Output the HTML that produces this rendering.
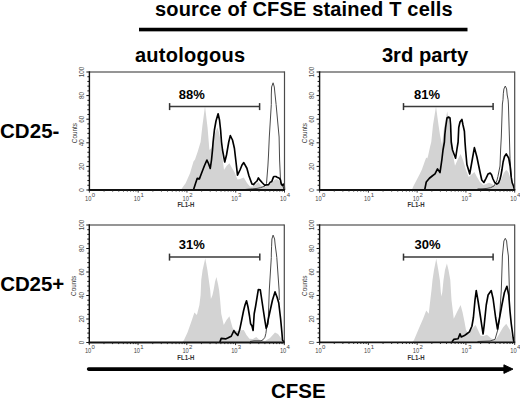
<!DOCTYPE html>
<html><head><meta charset="utf-8"><style>
html,body{margin:0;padding:0;background:#fff;width:520px;height:400px;overflow:hidden}
svg{display:block;font-family:"Liberation Sans", sans-serif}
</style></head><body>
<svg width="520" height="400" viewBox="0 0 520 400">
<text x="155" y="15.9" font-size="20" font-weight="bold" letter-spacing="0.18" fill="#000">source of CFSE stained T cells</text>
<rect x="139" y="27.75" width="328.5" height="3.6" fill="#000"/>
<text x="135" y="61.9" font-size="20" font-weight="bold" letter-spacing="0.25" fill="#000">autologous</text>
<text x="381.9" y="62" font-size="20.2" font-weight="bold" fill="#000">3rd party</text>
<text x="0" y="137.6" font-size="20.5" font-weight="bold" letter-spacing="0.05" fill="#000">CD25-</text>
<text x="0.2" y="290.6" font-size="20.5" font-weight="bold" letter-spacing="-0.1" fill="#000">CD25+</text>
<text x="270.9" y="398.3" font-size="20.5" font-weight="bold" letter-spacing="0" fill="#000">CFSE</text>
<line x1="88.6" y1="369.1" x2="505" y2="369.1" stroke="#000" stroke-width="3.6" stroke-linecap="round"/>
<polygon points="503.9,364.8 513.0,369.1 503.9,373.4" fill="#000" stroke="#000" stroke-width="0.9" stroke-linejoin="round"/>
<polygon points="181.00,190.00 181.00,189.70 182.50,187.60 185.60,183.25 190.00,173.25 193.50,161.50 195.00,159.50 197.75,151.40 200.60,142.00 202.50,125.00 205.00,106.30 207.60,128.00 209.40,150.00 211.50,148.00 213.50,140.00 215.50,132.00 217.50,127.50 219.20,133.00 220.80,143.00 222.30,156.00 224.00,170.00 226.50,166.00 229.40,163.25 232.00,168.00 234.40,172.00 237.50,179.50 240.00,179.00 243.75,177.60 247.00,183.00 250.00,186.50 253.00,186.50 256.00,184.00 258.40,182.10 260.50,185.00 263.30,187.00 266.10,186.30 271.00,183.50 274.50,180.00 276.60,179.00 279.40,180.70 281.50,184.90 282.90,187.70 283.75,190.00 283.75,190.00" fill="#d3d3d3"/>
<polyline points="245.00,189.50 252.80,188.80 257.00,188.40 260.50,187.70 265.00,186.00 266.50,183.50 267.90,166.00 268.50,155.00 269.30,137.00 271.30,104.50 271.30,95.00 271.60,87.00 273.10,82.80 274.30,87.00 274.90,93.00 276.10,104.50 279.10,137.00 279.60,160.00 280.60,182.00 282.50,185.75 284.00,189.00" fill="none" stroke="#4a4a4a" stroke-width="1" stroke-linejoin="round"/>
<polyline points="193.50,189.70 195.50,183.50 197.25,178.25 199.40,178.90 202.00,172.00 204.50,165.50 206.90,160.10 208.50,163.50 210.25,168.50 211.50,160.00 212.50,150.00 213.10,142.00 214.40,130.00 216.00,121.00 218.10,113.75 219.50,120.00 220.60,130.00 221.50,142.00 222.50,150.00 224.75,162.00 226.50,155.00 228.75,142.00 230.30,135.60 232.50,140.00 234.40,148.25 236.00,162.00 237.50,175.10 240.00,170.00 242.00,165.00 243.75,162.60 246.90,168.25 249.00,176.00 251.90,183.90 253.50,184.60 255.30,182.50 257.00,181.00 258.40,177.90 260.20,180.40 262.30,182.80 264.70,185.30 266.80,184.90 268.60,184.60 270.30,182.10 271.70,181.80 273.50,176.90 274.20,176.50 275.90,176.50 277.70,177.60 279.40,178.30 280.50,180.00 281.20,183.90 282.20,185.30 283.30,184.20 284.20,186.00 284.40,190.00" fill="none" stroke="#000" stroke-width="1.65" stroke-linejoin="round"/>
<line x1="89.4" y1="72.0" x2="284.5" y2="72.0" stroke="#727272" stroke-width="1.6"/>
<line x1="284.5" y1="71.4" x2="284.5" y2="190.0" stroke="#4a4a4a" stroke-width="1.2"/>
<line x1="89.4" y1="71.3" x2="89.4" y2="190.9" stroke="#111" stroke-width="1.4"/>
<line x1="88.7" y1="190.0" x2="285.0" y2="190.0" stroke="#111" stroke-width="1.8"/>
<line x1="86.4" y1="190.00" x2="89.4" y2="190.00" stroke="#111" stroke-width="1"/>
<line x1="87.4" y1="185.28" x2="89.4" y2="185.28" stroke="#111" stroke-width="1"/>
<line x1="87.4" y1="180.56" x2="89.4" y2="180.56" stroke="#111" stroke-width="1"/>
<line x1="87.4" y1="175.84" x2="89.4" y2="175.84" stroke="#111" stroke-width="1"/>
<line x1="87.4" y1="171.12" x2="89.4" y2="171.12" stroke="#111" stroke-width="1"/>
<line x1="86.4" y1="166.40" x2="89.4" y2="166.40" stroke="#111" stroke-width="1"/>
<line x1="87.4" y1="161.68" x2="89.4" y2="161.68" stroke="#111" stroke-width="1"/>
<line x1="87.4" y1="156.96" x2="89.4" y2="156.96" stroke="#111" stroke-width="1"/>
<line x1="87.4" y1="152.24" x2="89.4" y2="152.24" stroke="#111" stroke-width="1"/>
<line x1="87.4" y1="147.52" x2="89.4" y2="147.52" stroke="#111" stroke-width="1"/>
<line x1="86.4" y1="142.80" x2="89.4" y2="142.80" stroke="#111" stroke-width="1"/>
<line x1="87.4" y1="138.08" x2="89.4" y2="138.08" stroke="#111" stroke-width="1"/>
<line x1="87.4" y1="133.36" x2="89.4" y2="133.36" stroke="#111" stroke-width="1"/>
<line x1="87.4" y1="128.64" x2="89.4" y2="128.64" stroke="#111" stroke-width="1"/>
<line x1="87.4" y1="123.92" x2="89.4" y2="123.92" stroke="#111" stroke-width="1"/>
<line x1="86.4" y1="119.20" x2="89.4" y2="119.20" stroke="#111" stroke-width="1"/>
<line x1="87.4" y1="114.48" x2="89.4" y2="114.48" stroke="#111" stroke-width="1"/>
<line x1="87.4" y1="109.76" x2="89.4" y2="109.76" stroke="#111" stroke-width="1"/>
<line x1="87.4" y1="105.04" x2="89.4" y2="105.04" stroke="#111" stroke-width="1"/>
<line x1="87.4" y1="100.32" x2="89.4" y2="100.32" stroke="#111" stroke-width="1"/>
<line x1="86.4" y1="95.60" x2="89.4" y2="95.60" stroke="#111" stroke-width="1"/>
<line x1="87.4" y1="90.88" x2="89.4" y2="90.88" stroke="#111" stroke-width="1"/>
<line x1="87.4" y1="86.16" x2="89.4" y2="86.16" stroke="#111" stroke-width="1"/>
<line x1="87.4" y1="81.44" x2="89.4" y2="81.44" stroke="#111" stroke-width="1"/>
<line x1="87.4" y1="76.72" x2="89.4" y2="76.72" stroke="#111" stroke-width="1"/>
<line x1="86.4" y1="72.00" x2="89.4" y2="72.00" stroke="#111" stroke-width="1"/>
<line x1="89.40" y1="190.0" x2="89.40" y2="192.6" stroke="#222" stroke-width="0.9"/>
<line x1="104.08" y1="190.0" x2="104.08" y2="191.6" stroke="#222" stroke-width="0.9"/>
<line x1="112.67" y1="190.0" x2="112.67" y2="191.6" stroke="#222" stroke-width="0.9"/>
<line x1="118.77" y1="190.0" x2="118.77" y2="191.6" stroke="#222" stroke-width="0.9"/>
<line x1="123.49" y1="190.0" x2="123.49" y2="191.6" stroke="#222" stroke-width="0.9"/>
<line x1="127.35" y1="190.0" x2="127.35" y2="191.6" stroke="#222" stroke-width="0.9"/>
<line x1="130.62" y1="190.0" x2="130.62" y2="191.6" stroke="#222" stroke-width="0.9"/>
<line x1="133.45" y1="190.0" x2="133.45" y2="191.6" stroke="#222" stroke-width="0.9"/>
<line x1="135.94" y1="190.0" x2="135.94" y2="191.6" stroke="#222" stroke-width="0.9"/>
<line x1="138.18" y1="190.0" x2="138.18" y2="192.6" stroke="#222" stroke-width="0.9"/>
<line x1="152.86" y1="190.0" x2="152.86" y2="191.6" stroke="#222" stroke-width="0.9"/>
<line x1="161.45" y1="190.0" x2="161.45" y2="191.6" stroke="#222" stroke-width="0.9"/>
<line x1="167.54" y1="190.0" x2="167.54" y2="191.6" stroke="#222" stroke-width="0.9"/>
<line x1="172.27" y1="190.0" x2="172.27" y2="191.6" stroke="#222" stroke-width="0.9"/>
<line x1="176.13" y1="190.0" x2="176.13" y2="191.6" stroke="#222" stroke-width="0.9"/>
<line x1="179.39" y1="190.0" x2="179.39" y2="191.6" stroke="#222" stroke-width="0.9"/>
<line x1="182.22" y1="190.0" x2="182.22" y2="191.6" stroke="#222" stroke-width="0.9"/>
<line x1="184.72" y1="190.0" x2="184.72" y2="191.6" stroke="#222" stroke-width="0.9"/>
<line x1="186.95" y1="190.0" x2="186.95" y2="192.6" stroke="#222" stroke-width="0.9"/>
<line x1="201.63" y1="190.0" x2="201.63" y2="191.6" stroke="#222" stroke-width="0.9"/>
<line x1="210.22" y1="190.0" x2="210.22" y2="191.6" stroke="#222" stroke-width="0.9"/>
<line x1="216.32" y1="190.0" x2="216.32" y2="191.6" stroke="#222" stroke-width="0.9"/>
<line x1="221.04" y1="190.0" x2="221.04" y2="191.6" stroke="#222" stroke-width="0.9"/>
<line x1="224.90" y1="190.0" x2="224.90" y2="191.6" stroke="#222" stroke-width="0.9"/>
<line x1="228.17" y1="190.0" x2="228.17" y2="191.6" stroke="#222" stroke-width="0.9"/>
<line x1="231.00" y1="190.0" x2="231.00" y2="191.6" stroke="#222" stroke-width="0.9"/>
<line x1="233.49" y1="190.0" x2="233.49" y2="191.6" stroke="#222" stroke-width="0.9"/>
<line x1="235.72" y1="190.0" x2="235.72" y2="192.6" stroke="#222" stroke-width="0.9"/>
<line x1="250.41" y1="190.0" x2="250.41" y2="191.6" stroke="#222" stroke-width="0.9"/>
<line x1="259.00" y1="190.0" x2="259.00" y2="191.6" stroke="#222" stroke-width="0.9"/>
<line x1="265.09" y1="190.0" x2="265.09" y2="191.6" stroke="#222" stroke-width="0.9"/>
<line x1="269.82" y1="190.0" x2="269.82" y2="191.6" stroke="#222" stroke-width="0.9"/>
<line x1="273.68" y1="190.0" x2="273.68" y2="191.6" stroke="#222" stroke-width="0.9"/>
<line x1="276.94" y1="190.0" x2="276.94" y2="191.6" stroke="#222" stroke-width="0.9"/>
<line x1="279.77" y1="190.0" x2="279.77" y2="191.6" stroke="#222" stroke-width="0.9"/>
<line x1="282.27" y1="190.0" x2="282.27" y2="191.6" stroke="#222" stroke-width="0.9"/>
<line x1="284.50" y1="190.0" x2="284.50" y2="192.6" stroke="#222" stroke-width="0.9"/>
<text transform="translate(84.10,190.00) rotate(-90)" text-anchor="middle" font-size="6.3" fill="#444">0</text>
<text transform="translate(84.10,166.40) rotate(-90)" text-anchor="middle" font-size="6.3" fill="#444">20</text>
<text transform="translate(84.10,142.80) rotate(-90)" text-anchor="middle" font-size="6.3" fill="#444">40</text>
<text transform="translate(84.10,119.20) rotate(-90)" text-anchor="middle" font-size="6.3" fill="#444">60</text>
<text transform="translate(84.10,95.60) rotate(-90)" text-anchor="middle" font-size="6.3" fill="#444">80</text>
<text transform="translate(84.10,72.00) rotate(-90)" text-anchor="middle" font-size="6.3" fill="#444">100</text>
<text transform="translate(76.50,133.10) rotate(-90)" text-anchor="middle" font-size="6.4" fill="#333">Counts</text>
<text transform="translate(85.00,200.60) scale(0.82,1)" font-size="7" fill="#444">10</text>
<text x="91.70" y="196.60" font-size="6" fill="#444">0</text>
<text transform="translate(133.78,200.60) scale(0.82,1)" font-size="7" fill="#444">10</text>
<text x="140.48" y="196.60" font-size="6" fill="#444">1</text>
<text transform="translate(182.55,200.60) scale(0.82,1)" font-size="7" fill="#444">10</text>
<text x="189.25" y="196.60" font-size="6" fill="#444">2</text>
<text transform="translate(231.32,200.60) scale(0.82,1)" font-size="7" fill="#444">10</text>
<text x="238.03" y="196.60" font-size="6" fill="#444">3</text>
<text transform="translate(280.10,200.60) scale(0.82,1)" font-size="7" fill="#444">10</text>
<text x="286.80" y="196.60" font-size="6" fill="#444">4</text>
<text transform="translate(177.40,207.20) scale(0.94,1)" font-size="6.4" font-weight="bold" fill="#333">FL1-H</text>
<line x1="169.6" y1="106.5" x2="259.6" y2="106.5" stroke="#3a3a3a" stroke-width="1.6"/>
<line x1="169.6" y1="103.1" x2="169.6" y2="110.1" stroke="#333" stroke-width="1.5"/>
<line x1="259.6" y1="103.1" x2="259.6" y2="110.1" stroke="#333" stroke-width="1.5"/>
<text x="178.70" y="99.20" font-size="13" letter-spacing="0.05" font-weight="bold" fill="#000">88%</text>
<polygon points="411.90,190.00 411.90,189.70 413.50,186.00 416.90,179.50 419.50,174.50 421.90,169.50 425.00,160.75 426.25,157.50 427.25,158.50 428.10,155.75 430.00,147.00 431.25,142.00 433.00,125.00 436.00,106.60 438.50,125.00 440.00,135.00 442.00,145.00 444.00,128.00 447.25,111.25 449.50,125.00 451.00,140.00 453.00,155.00 455.00,165.75 457.50,160.00 460.60,153.90 463.00,160.00 466.00,170.00 468.75,177.00 471.50,174.50 474.40,172.00 477.00,177.00 480.00,182.00 483.50,185.00 486.00,184.00 489.00,182.80 492.00,184.00 494.00,185.60 497.50,184.60 501.00,180.00 503.80,173.00 505.90,170.20 507.00,170.20 508.70,173.00 510.80,180.00 512.90,186.30 514.00,190.00 514.00,190.00" fill="#d3d3d3"/>
<polyline points="477.50,188.90 482.00,188.80 487.00,188.40 490.50,187.70 494.00,186.00 496.80,181.00 497.90,176.50 500.00,166.00 500.60,150.00 501.30,137.00 502.40,104.00 503.00,99.80 503.30,93.80 503.90,89.00 505.30,86.00 506.60,89.00 507.20,95.00 508.10,99.80 508.40,104.00 509.40,137.00 510.00,158.25 511.25,175.75" fill="none" stroke="#4a4a4a" stroke-width="1" stroke-linejoin="round"/>
<polyline points="424.75,189.70 426.25,182.00 429.40,178.25 432.50,175.75 435.00,173.90 437.50,168.90 440.00,172.60 441.90,159.50 443.00,150.00 444.40,142.00 444.80,135.00 445.60,127.50 447.00,118.00 448.50,117.00 450.00,118.00 450.60,125.00 451.25,142.00 452.50,150.00 455.60,158.25 456.90,149.50 458.10,142.00 458.75,127.50 460.00,122.00 461.90,119.40 463.00,125.00 464.40,131.25 465.00,142.00 465.60,150.00 466.90,164.50 469.75,173.90 472.50,158.25 474.40,147.60 476.90,157.00 480.00,172.00 481.75,180.00 483.85,182.50 486.00,178.30 488.00,174.10 490.20,173.00 491.55,174.75 493.00,179.00 494.70,182.50 496.80,184.20 498.60,182.80 500.00,179.30 501.00,175.10 502.00,169.50 503.10,162.00 504.50,156.50 506.25,153.90 508.75,158.25 510.10,166.00 511.20,177.20 512.20,182.80 513.60,186.30 514.50,190.00" fill="none" stroke="#000" stroke-width="1.65" stroke-linejoin="round"/>
<line x1="319.6" y1="72.0" x2="514.7" y2="72.0" stroke="#727272" stroke-width="1.6"/>
<line x1="514.7" y1="71.4" x2="514.7" y2="190.0" stroke="#4a4a4a" stroke-width="1.2"/>
<line x1="319.6" y1="71.3" x2="319.6" y2="190.9" stroke="#111" stroke-width="1.4"/>
<line x1="318.90000000000003" y1="190.0" x2="515.2" y2="190.0" stroke="#111" stroke-width="1.8"/>
<line x1="316.6" y1="190.00" x2="319.6" y2="190.00" stroke="#111" stroke-width="1"/>
<line x1="317.6" y1="185.28" x2="319.6" y2="185.28" stroke="#111" stroke-width="1"/>
<line x1="317.6" y1="180.56" x2="319.6" y2="180.56" stroke="#111" stroke-width="1"/>
<line x1="317.6" y1="175.84" x2="319.6" y2="175.84" stroke="#111" stroke-width="1"/>
<line x1="317.6" y1="171.12" x2="319.6" y2="171.12" stroke="#111" stroke-width="1"/>
<line x1="316.6" y1="166.40" x2="319.6" y2="166.40" stroke="#111" stroke-width="1"/>
<line x1="317.6" y1="161.68" x2="319.6" y2="161.68" stroke="#111" stroke-width="1"/>
<line x1="317.6" y1="156.96" x2="319.6" y2="156.96" stroke="#111" stroke-width="1"/>
<line x1="317.6" y1="152.24" x2="319.6" y2="152.24" stroke="#111" stroke-width="1"/>
<line x1="317.6" y1="147.52" x2="319.6" y2="147.52" stroke="#111" stroke-width="1"/>
<line x1="316.6" y1="142.80" x2="319.6" y2="142.80" stroke="#111" stroke-width="1"/>
<line x1="317.6" y1="138.08" x2="319.6" y2="138.08" stroke="#111" stroke-width="1"/>
<line x1="317.6" y1="133.36" x2="319.6" y2="133.36" stroke="#111" stroke-width="1"/>
<line x1="317.6" y1="128.64" x2="319.6" y2="128.64" stroke="#111" stroke-width="1"/>
<line x1="317.6" y1="123.92" x2="319.6" y2="123.92" stroke="#111" stroke-width="1"/>
<line x1="316.6" y1="119.20" x2="319.6" y2="119.20" stroke="#111" stroke-width="1"/>
<line x1="317.6" y1="114.48" x2="319.6" y2="114.48" stroke="#111" stroke-width="1"/>
<line x1="317.6" y1="109.76" x2="319.6" y2="109.76" stroke="#111" stroke-width="1"/>
<line x1="317.6" y1="105.04" x2="319.6" y2="105.04" stroke="#111" stroke-width="1"/>
<line x1="317.6" y1="100.32" x2="319.6" y2="100.32" stroke="#111" stroke-width="1"/>
<line x1="316.6" y1="95.60" x2="319.6" y2="95.60" stroke="#111" stroke-width="1"/>
<line x1="317.6" y1="90.88" x2="319.6" y2="90.88" stroke="#111" stroke-width="1"/>
<line x1="317.6" y1="86.16" x2="319.6" y2="86.16" stroke="#111" stroke-width="1"/>
<line x1="317.6" y1="81.44" x2="319.6" y2="81.44" stroke="#111" stroke-width="1"/>
<line x1="317.6" y1="76.72" x2="319.6" y2="76.72" stroke="#111" stroke-width="1"/>
<line x1="316.6" y1="72.00" x2="319.6" y2="72.00" stroke="#111" stroke-width="1"/>
<line x1="319.60" y1="190.0" x2="319.60" y2="192.6" stroke="#222" stroke-width="0.9"/>
<line x1="334.28" y1="190.0" x2="334.28" y2="191.6" stroke="#222" stroke-width="0.9"/>
<line x1="342.87" y1="190.0" x2="342.87" y2="191.6" stroke="#222" stroke-width="0.9"/>
<line x1="348.97" y1="190.0" x2="348.97" y2="191.6" stroke="#222" stroke-width="0.9"/>
<line x1="353.69" y1="190.0" x2="353.69" y2="191.6" stroke="#222" stroke-width="0.9"/>
<line x1="357.55" y1="190.0" x2="357.55" y2="191.6" stroke="#222" stroke-width="0.9"/>
<line x1="360.82" y1="190.0" x2="360.82" y2="191.6" stroke="#222" stroke-width="0.9"/>
<line x1="363.65" y1="190.0" x2="363.65" y2="191.6" stroke="#222" stroke-width="0.9"/>
<line x1="366.14" y1="190.0" x2="366.14" y2="191.6" stroke="#222" stroke-width="0.9"/>
<line x1="368.38" y1="190.0" x2="368.38" y2="192.6" stroke="#222" stroke-width="0.9"/>
<line x1="383.06" y1="190.0" x2="383.06" y2="191.6" stroke="#222" stroke-width="0.9"/>
<line x1="391.65" y1="190.0" x2="391.65" y2="191.6" stroke="#222" stroke-width="0.9"/>
<line x1="397.74" y1="190.0" x2="397.74" y2="191.6" stroke="#222" stroke-width="0.9"/>
<line x1="402.47" y1="190.0" x2="402.47" y2="191.6" stroke="#222" stroke-width="0.9"/>
<line x1="406.33" y1="190.0" x2="406.33" y2="191.6" stroke="#222" stroke-width="0.9"/>
<line x1="409.59" y1="190.0" x2="409.59" y2="191.6" stroke="#222" stroke-width="0.9"/>
<line x1="412.42" y1="190.0" x2="412.42" y2="191.6" stroke="#222" stroke-width="0.9"/>
<line x1="414.92" y1="190.0" x2="414.92" y2="191.6" stroke="#222" stroke-width="0.9"/>
<line x1="417.15" y1="190.0" x2="417.15" y2="192.6" stroke="#222" stroke-width="0.9"/>
<line x1="431.83" y1="190.0" x2="431.83" y2="191.6" stroke="#222" stroke-width="0.9"/>
<line x1="440.42" y1="190.0" x2="440.42" y2="191.6" stroke="#222" stroke-width="0.9"/>
<line x1="446.52" y1="190.0" x2="446.52" y2="191.6" stroke="#222" stroke-width="0.9"/>
<line x1="451.24" y1="190.0" x2="451.24" y2="191.6" stroke="#222" stroke-width="0.9"/>
<line x1="455.10" y1="190.0" x2="455.10" y2="191.6" stroke="#222" stroke-width="0.9"/>
<line x1="458.37" y1="190.0" x2="458.37" y2="191.6" stroke="#222" stroke-width="0.9"/>
<line x1="461.20" y1="190.0" x2="461.20" y2="191.6" stroke="#222" stroke-width="0.9"/>
<line x1="463.69" y1="190.0" x2="463.69" y2="191.6" stroke="#222" stroke-width="0.9"/>
<line x1="465.93" y1="190.0" x2="465.93" y2="192.6" stroke="#222" stroke-width="0.9"/>
<line x1="480.61" y1="190.0" x2="480.61" y2="191.6" stroke="#222" stroke-width="0.9"/>
<line x1="489.20" y1="190.0" x2="489.20" y2="191.6" stroke="#222" stroke-width="0.9"/>
<line x1="495.29" y1="190.0" x2="495.29" y2="191.6" stroke="#222" stroke-width="0.9"/>
<line x1="500.02" y1="190.0" x2="500.02" y2="191.6" stroke="#222" stroke-width="0.9"/>
<line x1="503.88" y1="190.0" x2="503.88" y2="191.6" stroke="#222" stroke-width="0.9"/>
<line x1="507.14" y1="190.0" x2="507.14" y2="191.6" stroke="#222" stroke-width="0.9"/>
<line x1="509.97" y1="190.0" x2="509.97" y2="191.6" stroke="#222" stroke-width="0.9"/>
<line x1="512.47" y1="190.0" x2="512.47" y2="191.6" stroke="#222" stroke-width="0.9"/>
<line x1="514.70" y1="190.0" x2="514.70" y2="192.6" stroke="#222" stroke-width="0.9"/>
<text transform="translate(314.30,190.00) rotate(-90)" text-anchor="middle" font-size="6.3" fill="#444">0</text>
<text transform="translate(314.30,166.40) rotate(-90)" text-anchor="middle" font-size="6.3" fill="#444">20</text>
<text transform="translate(314.30,142.80) rotate(-90)" text-anchor="middle" font-size="6.3" fill="#444">40</text>
<text transform="translate(314.30,119.20) rotate(-90)" text-anchor="middle" font-size="6.3" fill="#444">60</text>
<text transform="translate(314.30,95.60) rotate(-90)" text-anchor="middle" font-size="6.3" fill="#444">80</text>
<text transform="translate(314.30,72.00) rotate(-90)" text-anchor="middle" font-size="6.3" fill="#444">100</text>
<text transform="translate(306.70,133.10) rotate(-90)" text-anchor="middle" font-size="6.4" fill="#333">Counts</text>
<text transform="translate(315.20,200.60) scale(0.82,1)" font-size="7" fill="#444">10</text>
<text x="321.90" y="196.60" font-size="6" fill="#444">0</text>
<text transform="translate(363.98,200.60) scale(0.82,1)" font-size="7" fill="#444">10</text>
<text x="370.68" y="196.60" font-size="6" fill="#444">1</text>
<text transform="translate(412.75,200.60) scale(0.82,1)" font-size="7" fill="#444">10</text>
<text x="419.45" y="196.60" font-size="6" fill="#444">2</text>
<text transform="translate(461.53,200.60) scale(0.82,1)" font-size="7" fill="#444">10</text>
<text x="468.23" y="196.60" font-size="6" fill="#444">3</text>
<text transform="translate(510.30,200.60) scale(0.82,1)" font-size="7" fill="#444">10</text>
<text x="517.00" y="196.60" font-size="6" fill="#444">4</text>
<text transform="translate(407.60,207.20) scale(0.94,1)" font-size="6.4" font-weight="bold" fill="#333">FL1-H</text>
<line x1="403.5" y1="106.5" x2="493.1" y2="106.5" stroke="#3a3a3a" stroke-width="1.6"/>
<line x1="403.5" y1="103.1" x2="403.5" y2="110.1" stroke="#333" stroke-width="1.5"/>
<line x1="493.1" y1="103.1" x2="493.1" y2="110.1" stroke="#333" stroke-width="1.5"/>
<text x="414.00" y="99.20" font-size="13" letter-spacing="0.05" font-weight="bold" fill="#000">81%</text>
<polygon points="182.50,342.50 182.50,342.00 184.00,340.00 187.50,332.50 191.90,320.00 194.40,312.50 196.90,315.00 199.40,305.00 200.60,295.00 201.25,280.00 202.60,270.00 205.25,258.20 207.40,270.00 208.80,280.00 210.20,290.00 210.90,299.00 212.50,295.00 213.60,290.00 215.00,282.00 216.40,277.00 218.00,284.00 219.10,290.00 220.00,298.75 221.25,313.75 223.75,325.00 226.50,320.00 229.40,316.25 232.50,327.50 234.00,330.00 237.00,331.00 240.00,330.50 243.75,330.00 246.50,335.00 249.40,338.75 253.00,339.00 256.25,336.90 259.00,339.50 265.00,341.00 270.00,338.00 275.00,332.50 278.00,334.00 280.60,337.50 283.50,342.00 283.50,342.50" fill="#d3d3d3"/>
<polyline points="250.00,341.50 254.00,340.80 261.00,340.80 263.10,339.70 264.90,337.30 265.90,333.40 266.60,328.00 268.10,323.75 269.30,290.00 271.30,257.50 271.30,254.00 271.60,246.20 271.90,239.00 273.10,235.10 274.60,239.00 275.20,245.00 276.40,254.00 276.80,257.50 279.10,290.00 279.30,300.00" fill="none" stroke="#4a4a4a" stroke-width="1" stroke-linejoin="round"/>
<polyline points="219.90,342.00 221.20,338.40 225.60,338.90 227.70,338.00 231.25,336.25 233.90,330.60 235.60,333.20 237.80,335.40 239.60,330.10 241.50,321.00 243.50,311.00 245.00,305.00 246.50,300.80 248.00,307.00 249.50,316.00 250.60,323.75 252.00,326.00 253.10,330.50 254.20,313.75 255.60,306.25 258.30,289.60 260.30,289.80 261.25,296.25 263.10,308.75 265.00,321.25 266.20,328.30 267.30,325.00 268.10,320.00 270.50,309.00 272.50,300.00 275.00,291.90 277.00,297.00 278.75,303.00 280.60,318.75 281.90,332.50 282.50,340.00 284.00,342.00" fill="none" stroke="#000" stroke-width="1.65" stroke-linejoin="round"/>
<line x1="89.3" y1="225.0" x2="284.3" y2="225.0" stroke="#727272" stroke-width="1.6"/>
<line x1="284.3" y1="224.4" x2="284.3" y2="342.5" stroke="#4a4a4a" stroke-width="1.2"/>
<line x1="89.3" y1="224.3" x2="89.3" y2="343.4" stroke="#111" stroke-width="1.4"/>
<line x1="88.6" y1="342.5" x2="284.8" y2="342.5" stroke="#111" stroke-width="1.8"/>
<line x1="86.3" y1="342.50" x2="89.3" y2="342.50" stroke="#111" stroke-width="1"/>
<line x1="87.3" y1="337.80" x2="89.3" y2="337.80" stroke="#111" stroke-width="1"/>
<line x1="87.3" y1="333.10" x2="89.3" y2="333.10" stroke="#111" stroke-width="1"/>
<line x1="87.3" y1="328.40" x2="89.3" y2="328.40" stroke="#111" stroke-width="1"/>
<line x1="87.3" y1="323.70" x2="89.3" y2="323.70" stroke="#111" stroke-width="1"/>
<line x1="86.3" y1="319.00" x2="89.3" y2="319.00" stroke="#111" stroke-width="1"/>
<line x1="87.3" y1="314.30" x2="89.3" y2="314.30" stroke="#111" stroke-width="1"/>
<line x1="87.3" y1="309.60" x2="89.3" y2="309.60" stroke="#111" stroke-width="1"/>
<line x1="87.3" y1="304.90" x2="89.3" y2="304.90" stroke="#111" stroke-width="1"/>
<line x1="87.3" y1="300.20" x2="89.3" y2="300.20" stroke="#111" stroke-width="1"/>
<line x1="86.3" y1="295.50" x2="89.3" y2="295.50" stroke="#111" stroke-width="1"/>
<line x1="87.3" y1="290.80" x2="89.3" y2="290.80" stroke="#111" stroke-width="1"/>
<line x1="87.3" y1="286.10" x2="89.3" y2="286.10" stroke="#111" stroke-width="1"/>
<line x1="87.3" y1="281.40" x2="89.3" y2="281.40" stroke="#111" stroke-width="1"/>
<line x1="87.3" y1="276.70" x2="89.3" y2="276.70" stroke="#111" stroke-width="1"/>
<line x1="86.3" y1="272.00" x2="89.3" y2="272.00" stroke="#111" stroke-width="1"/>
<line x1="87.3" y1="267.30" x2="89.3" y2="267.30" stroke="#111" stroke-width="1"/>
<line x1="87.3" y1="262.60" x2="89.3" y2="262.60" stroke="#111" stroke-width="1"/>
<line x1="87.3" y1="257.90" x2="89.3" y2="257.90" stroke="#111" stroke-width="1"/>
<line x1="87.3" y1="253.20" x2="89.3" y2="253.20" stroke="#111" stroke-width="1"/>
<line x1="86.3" y1="248.50" x2="89.3" y2="248.50" stroke="#111" stroke-width="1"/>
<line x1="87.3" y1="243.80" x2="89.3" y2="243.80" stroke="#111" stroke-width="1"/>
<line x1="87.3" y1="239.10" x2="89.3" y2="239.10" stroke="#111" stroke-width="1"/>
<line x1="87.3" y1="234.40" x2="89.3" y2="234.40" stroke="#111" stroke-width="1"/>
<line x1="87.3" y1="229.70" x2="89.3" y2="229.70" stroke="#111" stroke-width="1"/>
<line x1="86.3" y1="225.00" x2="89.3" y2="225.00" stroke="#111" stroke-width="1"/>
<line x1="89.30" y1="342.5" x2="89.30" y2="345.1" stroke="#222" stroke-width="0.9"/>
<line x1="103.98" y1="342.5" x2="103.98" y2="344.1" stroke="#222" stroke-width="0.9"/>
<line x1="112.56" y1="342.5" x2="112.56" y2="344.1" stroke="#222" stroke-width="0.9"/>
<line x1="118.65" y1="342.5" x2="118.65" y2="344.1" stroke="#222" stroke-width="0.9"/>
<line x1="123.37" y1="342.5" x2="123.37" y2="344.1" stroke="#222" stroke-width="0.9"/>
<line x1="127.23" y1="342.5" x2="127.23" y2="344.1" stroke="#222" stroke-width="0.9"/>
<line x1="130.50" y1="342.5" x2="130.50" y2="344.1" stroke="#222" stroke-width="0.9"/>
<line x1="133.33" y1="342.5" x2="133.33" y2="344.1" stroke="#222" stroke-width="0.9"/>
<line x1="135.82" y1="342.5" x2="135.82" y2="344.1" stroke="#222" stroke-width="0.9"/>
<line x1="138.05" y1="342.5" x2="138.05" y2="345.1" stroke="#222" stroke-width="0.9"/>
<line x1="152.73" y1="342.5" x2="152.73" y2="344.1" stroke="#222" stroke-width="0.9"/>
<line x1="161.31" y1="342.5" x2="161.31" y2="344.1" stroke="#222" stroke-width="0.9"/>
<line x1="167.40" y1="342.5" x2="167.40" y2="344.1" stroke="#222" stroke-width="0.9"/>
<line x1="172.12" y1="342.5" x2="172.12" y2="344.1" stroke="#222" stroke-width="0.9"/>
<line x1="175.98" y1="342.5" x2="175.98" y2="344.1" stroke="#222" stroke-width="0.9"/>
<line x1="179.25" y1="342.5" x2="179.25" y2="344.1" stroke="#222" stroke-width="0.9"/>
<line x1="182.08" y1="342.5" x2="182.08" y2="344.1" stroke="#222" stroke-width="0.9"/>
<line x1="184.57" y1="342.5" x2="184.57" y2="344.1" stroke="#222" stroke-width="0.9"/>
<line x1="186.80" y1="342.5" x2="186.80" y2="345.1" stroke="#222" stroke-width="0.9"/>
<line x1="201.48" y1="342.5" x2="201.48" y2="344.1" stroke="#222" stroke-width="0.9"/>
<line x1="210.06" y1="342.5" x2="210.06" y2="344.1" stroke="#222" stroke-width="0.9"/>
<line x1="216.15" y1="342.5" x2="216.15" y2="344.1" stroke="#222" stroke-width="0.9"/>
<line x1="220.87" y1="342.5" x2="220.87" y2="344.1" stroke="#222" stroke-width="0.9"/>
<line x1="224.73" y1="342.5" x2="224.73" y2="344.1" stroke="#222" stroke-width="0.9"/>
<line x1="228.00" y1="342.5" x2="228.00" y2="344.1" stroke="#222" stroke-width="0.9"/>
<line x1="230.83" y1="342.5" x2="230.83" y2="344.1" stroke="#222" stroke-width="0.9"/>
<line x1="233.32" y1="342.5" x2="233.32" y2="344.1" stroke="#222" stroke-width="0.9"/>
<line x1="235.55" y1="342.5" x2="235.55" y2="345.1" stroke="#222" stroke-width="0.9"/>
<line x1="250.23" y1="342.5" x2="250.23" y2="344.1" stroke="#222" stroke-width="0.9"/>
<line x1="258.81" y1="342.5" x2="258.81" y2="344.1" stroke="#222" stroke-width="0.9"/>
<line x1="264.90" y1="342.5" x2="264.90" y2="344.1" stroke="#222" stroke-width="0.9"/>
<line x1="269.62" y1="342.5" x2="269.62" y2="344.1" stroke="#222" stroke-width="0.9"/>
<line x1="273.48" y1="342.5" x2="273.48" y2="344.1" stroke="#222" stroke-width="0.9"/>
<line x1="276.75" y1="342.5" x2="276.75" y2="344.1" stroke="#222" stroke-width="0.9"/>
<line x1="279.58" y1="342.5" x2="279.58" y2="344.1" stroke="#222" stroke-width="0.9"/>
<line x1="282.07" y1="342.5" x2="282.07" y2="344.1" stroke="#222" stroke-width="0.9"/>
<line x1="284.30" y1="342.5" x2="284.30" y2="345.1" stroke="#222" stroke-width="0.9"/>
<text transform="translate(84.00,342.50) rotate(-90)" text-anchor="middle" font-size="6.3" fill="#444">0</text>
<text transform="translate(84.00,319.00) rotate(-90)" text-anchor="middle" font-size="6.3" fill="#444">20</text>
<text transform="translate(84.00,295.50) rotate(-90)" text-anchor="middle" font-size="6.3" fill="#444">40</text>
<text transform="translate(84.00,272.00) rotate(-90)" text-anchor="middle" font-size="6.3" fill="#444">60</text>
<text transform="translate(84.00,248.50) rotate(-90)" text-anchor="middle" font-size="6.3" fill="#444">80</text>
<text transform="translate(84.00,225.00) rotate(-90)" text-anchor="middle" font-size="6.3" fill="#444">100</text>
<text transform="translate(76.40,285.85) rotate(-90)" text-anchor="middle" font-size="6.4" fill="#333">Counts</text>
<text transform="translate(84.90,353.10) scale(0.82,1)" font-size="7" fill="#444">10</text>
<text x="91.60" y="349.10" font-size="6" fill="#444">0</text>
<text transform="translate(133.65,353.10) scale(0.82,1)" font-size="7" fill="#444">10</text>
<text x="140.35" y="349.10" font-size="6" fill="#444">1</text>
<text transform="translate(182.40,353.10) scale(0.82,1)" font-size="7" fill="#444">10</text>
<text x="189.10" y="349.10" font-size="6" fill="#444">2</text>
<text transform="translate(231.15,353.10) scale(0.82,1)" font-size="7" fill="#444">10</text>
<text x="237.85" y="349.10" font-size="6" fill="#444">3</text>
<text transform="translate(279.90,353.10) scale(0.82,1)" font-size="7" fill="#444">10</text>
<text x="286.60" y="349.10" font-size="6" fill="#444">4</text>
<text transform="translate(177.30,359.70) scale(0.94,1)" font-size="6.4" font-weight="bold" fill="#333">FL1-H</text>
<line x1="169.5" y1="257.0" x2="259.8" y2="257.0" stroke="#3a3a3a" stroke-width="1.6"/>
<line x1="169.5" y1="253.6" x2="169.5" y2="260.6" stroke="#333" stroke-width="1.5"/>
<line x1="259.8" y1="253.6" x2="259.8" y2="260.6" stroke="#333" stroke-width="1.5"/>
<text x="178.80" y="248.70" font-size="13" letter-spacing="0.05" font-weight="bold" fill="#000">31%</text>
<polygon points="412.50,342.40 412.50,342.00 414.00,340.00 418.75,328.75 423.10,318.75 426.25,310.60 428.75,313.75 430.60,297.50 431.50,290.00 432.50,280.00 434.00,270.00 436.25,258.80 438.30,270.00 440.00,281.00 440.80,292.00 441.50,296.50 442.30,292.00 443.50,280.00 445.00,270.00 446.90,263.50 448.50,270.00 450.30,280.00 451.00,292.00 451.50,300.00 453.75,318.75 457.00,312.00 460.60,305.00 462.50,312.00 464.40,321.25 466.00,330.00 468.00,333.00 471.00,330.00 475.60,325.00 478.00,330.00 480.50,335.50 483.50,336.00 486.80,334.80 489.00,336.50 491.00,338.30 494.00,339.50 496.00,339.00 498.00,336.00 500.80,331.30 503.00,327.50 506.25,323.75 510.00,330.00 513.10,340.00 514.00,342.00 514.00,342.40" fill="#d3d3d3"/>
<polyline points="477.50,341.50 490.00,341.00 495.00,339.40 498.10,328.75 499.50,318.00 501.30,290.00 502.40,256.00 503.30,247.00 503.90,241.00 505.30,238.30 506.60,241.00 507.20,247.00 508.40,256.00 509.40,290.00 509.20,300.00" fill="none" stroke="#4a4a4a" stroke-width="1" stroke-linejoin="round"/>
<polyline points="451.90,342.00 453.75,339.40 458.10,338.75 460.00,333.75 461.25,337.00 464.40,335.60 466.90,333.75 469.40,331.90 471.90,326.25 473.40,317.50 475.00,300.00 476.25,290.60 478.10,301.25 480.60,317.50 482.00,327.00 483.10,334.00 484.20,325.00 485.00,317.00 486.25,305.00 488.10,295.00 489.50,293.00 491.25,290.60 493.10,298.75 495.60,317.50 497.50,329.00 499.40,318.75 501.90,305.00 504.40,292.50 506.90,286.25 508.75,295.00 510.00,311.25 511.25,323.75 513.10,337.50 513.75,341.00 514.50,342.00" fill="none" stroke="#000" stroke-width="1.65" stroke-linejoin="round"/>
<line x1="319.6" y1="225.0" x2="514.7" y2="225.0" stroke="#727272" stroke-width="1.6"/>
<line x1="514.7" y1="224.4" x2="514.7" y2="342.4" stroke="#4a4a4a" stroke-width="1.2"/>
<line x1="319.6" y1="224.3" x2="319.6" y2="343.29999999999995" stroke="#111" stroke-width="1.4"/>
<line x1="318.90000000000003" y1="342.4" x2="515.2" y2="342.4" stroke="#111" stroke-width="1.8"/>
<line x1="316.6" y1="342.40" x2="319.6" y2="342.40" stroke="#111" stroke-width="1"/>
<line x1="317.6" y1="337.70" x2="319.6" y2="337.70" stroke="#111" stroke-width="1"/>
<line x1="317.6" y1="333.01" x2="319.6" y2="333.01" stroke="#111" stroke-width="1"/>
<line x1="317.6" y1="328.31" x2="319.6" y2="328.31" stroke="#111" stroke-width="1"/>
<line x1="317.6" y1="323.62" x2="319.6" y2="323.62" stroke="#111" stroke-width="1"/>
<line x1="316.6" y1="318.92" x2="319.6" y2="318.92" stroke="#111" stroke-width="1"/>
<line x1="317.6" y1="314.22" x2="319.6" y2="314.22" stroke="#111" stroke-width="1"/>
<line x1="317.6" y1="309.53" x2="319.6" y2="309.53" stroke="#111" stroke-width="1"/>
<line x1="317.6" y1="304.83" x2="319.6" y2="304.83" stroke="#111" stroke-width="1"/>
<line x1="317.6" y1="300.14" x2="319.6" y2="300.14" stroke="#111" stroke-width="1"/>
<line x1="316.6" y1="295.44" x2="319.6" y2="295.44" stroke="#111" stroke-width="1"/>
<line x1="317.6" y1="290.74" x2="319.6" y2="290.74" stroke="#111" stroke-width="1"/>
<line x1="317.6" y1="286.05" x2="319.6" y2="286.05" stroke="#111" stroke-width="1"/>
<line x1="317.6" y1="281.35" x2="319.6" y2="281.35" stroke="#111" stroke-width="1"/>
<line x1="317.6" y1="276.66" x2="319.6" y2="276.66" stroke="#111" stroke-width="1"/>
<line x1="316.6" y1="271.96" x2="319.6" y2="271.96" stroke="#111" stroke-width="1"/>
<line x1="317.6" y1="267.26" x2="319.6" y2="267.26" stroke="#111" stroke-width="1"/>
<line x1="317.6" y1="262.57" x2="319.6" y2="262.57" stroke="#111" stroke-width="1"/>
<line x1="317.6" y1="257.87" x2="319.6" y2="257.87" stroke="#111" stroke-width="1"/>
<line x1="317.6" y1="253.18" x2="319.6" y2="253.18" stroke="#111" stroke-width="1"/>
<line x1="316.6" y1="248.48" x2="319.6" y2="248.48" stroke="#111" stroke-width="1"/>
<line x1="317.6" y1="243.78" x2="319.6" y2="243.78" stroke="#111" stroke-width="1"/>
<line x1="317.6" y1="239.09" x2="319.6" y2="239.09" stroke="#111" stroke-width="1"/>
<line x1="317.6" y1="234.39" x2="319.6" y2="234.39" stroke="#111" stroke-width="1"/>
<line x1="317.6" y1="229.70" x2="319.6" y2="229.70" stroke="#111" stroke-width="1"/>
<line x1="316.6" y1="225.00" x2="319.6" y2="225.00" stroke="#111" stroke-width="1"/>
<line x1="319.60" y1="342.4" x2="319.60" y2="345.0" stroke="#222" stroke-width="0.9"/>
<line x1="334.28" y1="342.4" x2="334.28" y2="344.0" stroke="#222" stroke-width="0.9"/>
<line x1="342.87" y1="342.4" x2="342.87" y2="344.0" stroke="#222" stroke-width="0.9"/>
<line x1="348.97" y1="342.4" x2="348.97" y2="344.0" stroke="#222" stroke-width="0.9"/>
<line x1="353.69" y1="342.4" x2="353.69" y2="344.0" stroke="#222" stroke-width="0.9"/>
<line x1="357.55" y1="342.4" x2="357.55" y2="344.0" stroke="#222" stroke-width="0.9"/>
<line x1="360.82" y1="342.4" x2="360.82" y2="344.0" stroke="#222" stroke-width="0.9"/>
<line x1="363.65" y1="342.4" x2="363.65" y2="344.0" stroke="#222" stroke-width="0.9"/>
<line x1="366.14" y1="342.4" x2="366.14" y2="344.0" stroke="#222" stroke-width="0.9"/>
<line x1="368.38" y1="342.4" x2="368.38" y2="345.0" stroke="#222" stroke-width="0.9"/>
<line x1="383.06" y1="342.4" x2="383.06" y2="344.0" stroke="#222" stroke-width="0.9"/>
<line x1="391.65" y1="342.4" x2="391.65" y2="344.0" stroke="#222" stroke-width="0.9"/>
<line x1="397.74" y1="342.4" x2="397.74" y2="344.0" stroke="#222" stroke-width="0.9"/>
<line x1="402.47" y1="342.4" x2="402.47" y2="344.0" stroke="#222" stroke-width="0.9"/>
<line x1="406.33" y1="342.4" x2="406.33" y2="344.0" stroke="#222" stroke-width="0.9"/>
<line x1="409.59" y1="342.4" x2="409.59" y2="344.0" stroke="#222" stroke-width="0.9"/>
<line x1="412.42" y1="342.4" x2="412.42" y2="344.0" stroke="#222" stroke-width="0.9"/>
<line x1="414.92" y1="342.4" x2="414.92" y2="344.0" stroke="#222" stroke-width="0.9"/>
<line x1="417.15" y1="342.4" x2="417.15" y2="345.0" stroke="#222" stroke-width="0.9"/>
<line x1="431.83" y1="342.4" x2="431.83" y2="344.0" stroke="#222" stroke-width="0.9"/>
<line x1="440.42" y1="342.4" x2="440.42" y2="344.0" stroke="#222" stroke-width="0.9"/>
<line x1="446.52" y1="342.4" x2="446.52" y2="344.0" stroke="#222" stroke-width="0.9"/>
<line x1="451.24" y1="342.4" x2="451.24" y2="344.0" stroke="#222" stroke-width="0.9"/>
<line x1="455.10" y1="342.4" x2="455.10" y2="344.0" stroke="#222" stroke-width="0.9"/>
<line x1="458.37" y1="342.4" x2="458.37" y2="344.0" stroke="#222" stroke-width="0.9"/>
<line x1="461.20" y1="342.4" x2="461.20" y2="344.0" stroke="#222" stroke-width="0.9"/>
<line x1="463.69" y1="342.4" x2="463.69" y2="344.0" stroke="#222" stroke-width="0.9"/>
<line x1="465.93" y1="342.4" x2="465.93" y2="345.0" stroke="#222" stroke-width="0.9"/>
<line x1="480.61" y1="342.4" x2="480.61" y2="344.0" stroke="#222" stroke-width="0.9"/>
<line x1="489.20" y1="342.4" x2="489.20" y2="344.0" stroke="#222" stroke-width="0.9"/>
<line x1="495.29" y1="342.4" x2="495.29" y2="344.0" stroke="#222" stroke-width="0.9"/>
<line x1="500.02" y1="342.4" x2="500.02" y2="344.0" stroke="#222" stroke-width="0.9"/>
<line x1="503.88" y1="342.4" x2="503.88" y2="344.0" stroke="#222" stroke-width="0.9"/>
<line x1="507.14" y1="342.4" x2="507.14" y2="344.0" stroke="#222" stroke-width="0.9"/>
<line x1="509.97" y1="342.4" x2="509.97" y2="344.0" stroke="#222" stroke-width="0.9"/>
<line x1="512.47" y1="342.4" x2="512.47" y2="344.0" stroke="#222" stroke-width="0.9"/>
<line x1="514.70" y1="342.4" x2="514.70" y2="345.0" stroke="#222" stroke-width="0.9"/>
<text transform="translate(314.30,342.40) rotate(-90)" text-anchor="middle" font-size="6.3" fill="#444">0</text>
<text transform="translate(314.30,318.92) rotate(-90)" text-anchor="middle" font-size="6.3" fill="#444">20</text>
<text transform="translate(314.30,295.44) rotate(-90)" text-anchor="middle" font-size="6.3" fill="#444">40</text>
<text transform="translate(314.30,271.96) rotate(-90)" text-anchor="middle" font-size="6.3" fill="#444">60</text>
<text transform="translate(314.30,248.48) rotate(-90)" text-anchor="middle" font-size="6.3" fill="#444">80</text>
<text transform="translate(314.30,225.00) rotate(-90)" text-anchor="middle" font-size="6.3" fill="#444">100</text>
<text transform="translate(306.70,285.80) rotate(-90)" text-anchor="middle" font-size="6.4" fill="#333">Counts</text>
<text transform="translate(315.20,353.00) scale(0.82,1)" font-size="7" fill="#444">10</text>
<text x="321.90" y="349.00" font-size="6" fill="#444">0</text>
<text transform="translate(363.98,353.00) scale(0.82,1)" font-size="7" fill="#444">10</text>
<text x="370.68" y="349.00" font-size="6" fill="#444">1</text>
<text transform="translate(412.75,353.00) scale(0.82,1)" font-size="7" fill="#444">10</text>
<text x="419.45" y="349.00" font-size="6" fill="#444">2</text>
<text transform="translate(461.53,353.00) scale(0.82,1)" font-size="7" fill="#444">10</text>
<text x="468.23" y="349.00" font-size="6" fill="#444">3</text>
<text transform="translate(510.30,353.00) scale(0.82,1)" font-size="7" fill="#444">10</text>
<text x="517.00" y="349.00" font-size="6" fill="#444">4</text>
<text transform="translate(407.60,359.60) scale(0.94,1)" font-size="6.4" font-weight="bold" fill="#333">FL1-H</text>
<line x1="403.5" y1="257.0" x2="493.1" y2="257.0" stroke="#3a3a3a" stroke-width="1.6"/>
<line x1="403.5" y1="253.6" x2="403.5" y2="260.6" stroke="#333" stroke-width="1.5"/>
<line x1="493.1" y1="253.6" x2="493.1" y2="260.6" stroke="#333" stroke-width="1.5"/>
<text x="414.40" y="248.70" font-size="13" letter-spacing="0.05" font-weight="bold" fill="#000">30%</text>
</svg>
</body></html>
